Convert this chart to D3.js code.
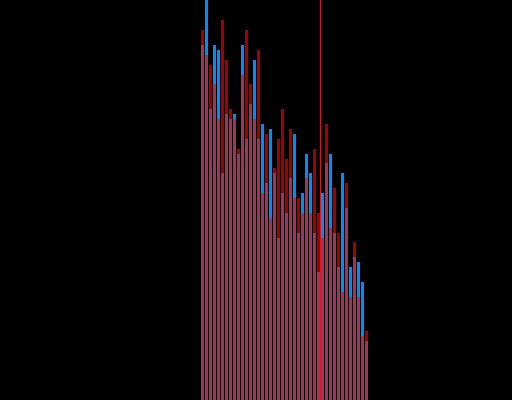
<!DOCTYPE html>
<html>
<head>
<meta charset="utf-8">
<script src="https://cdn.jsdelivr.net/npm/d3@7"></script>
<style>
  html, body { margin: 0; padding: 0; background: #000; }
  svg { display: block; }
</style>
</head>
<body>
<script>
// Bar index categories (42 bins)
const categories = d3.range(42);
// Blue series (y-pixel scale 0..400)
const blueValues = [355, 410, 291, 355, 350, 227, 286, 281, 286, 246,
                    355, 261, 296, 340, 261, 276, 217, 271, 227, 162,
                    207, 187, 222, 266, 167, 207, 246, 227, 167, 128,
                    207, 237, 246, 167, 133, 227, 192, 133, 143, 138,
                    118, 59];
// Red series
const redValues  = [370, 345, 335, 316, 281, 380, 340, 291, 281, 251,
                    325, 370, 316, 281, 350, 207, 266, 182, 232, 261,
                    291, 241, 271, 202, 202, 187, 222, 187, 251, 187,
                    162, 276, 172, 212, 167, 108, 217, 103, 158, 103,
                    64, 69];
// Vertical marker position (in bin units)
const markerValue = 29.75;

const W = 512, H = 400;
const svg = d3.select("body").append("svg").attr("width", W).attr("height", H);
svg.append("rect").attr("width", W).attr("height", H).attr("fill", "#000");

const x = d3.scaleLinear().domain([0, categories.length]).range([201, 201 + 4 * categories.length]);
const y = d3.scaleLinear().domain([0, 400]).range([H, 0]);

svg.append("g").selectAll("rect").data(categories).join("rect")
  .attr("x", d => x(d))
  .attr("width", d => x(d + 1) - x(d) - 1)
  .attr("y", d => y(blueValues[d]))
  .attr("height", d => y(0) - y(blueValues[d]))
  .attr("fill", "#008cff");

svg.append("g").selectAll("rect").data(categories).join("rect")
  .attr("x", d => x(d))
  .attr("width", d => x(d + 1) - x(d) - 1)
  .attr("y", d => y(redValues[d]))
  .attr("height", d => y(0) - y(redValues[d]))
  .attr("fill", "#ff0000")
  .attr("fill-opacity", 0.63);

svg.append("line")
  .attr("x1", x(markerValue) + 0.5).attr("x2", x(markerValue) + 0.5)
  .attr("y1", 0).attr("y2", H)
  .attr("stroke", "#e0141e").attr("stroke-width", 1);
</script>
</body>
</html>
